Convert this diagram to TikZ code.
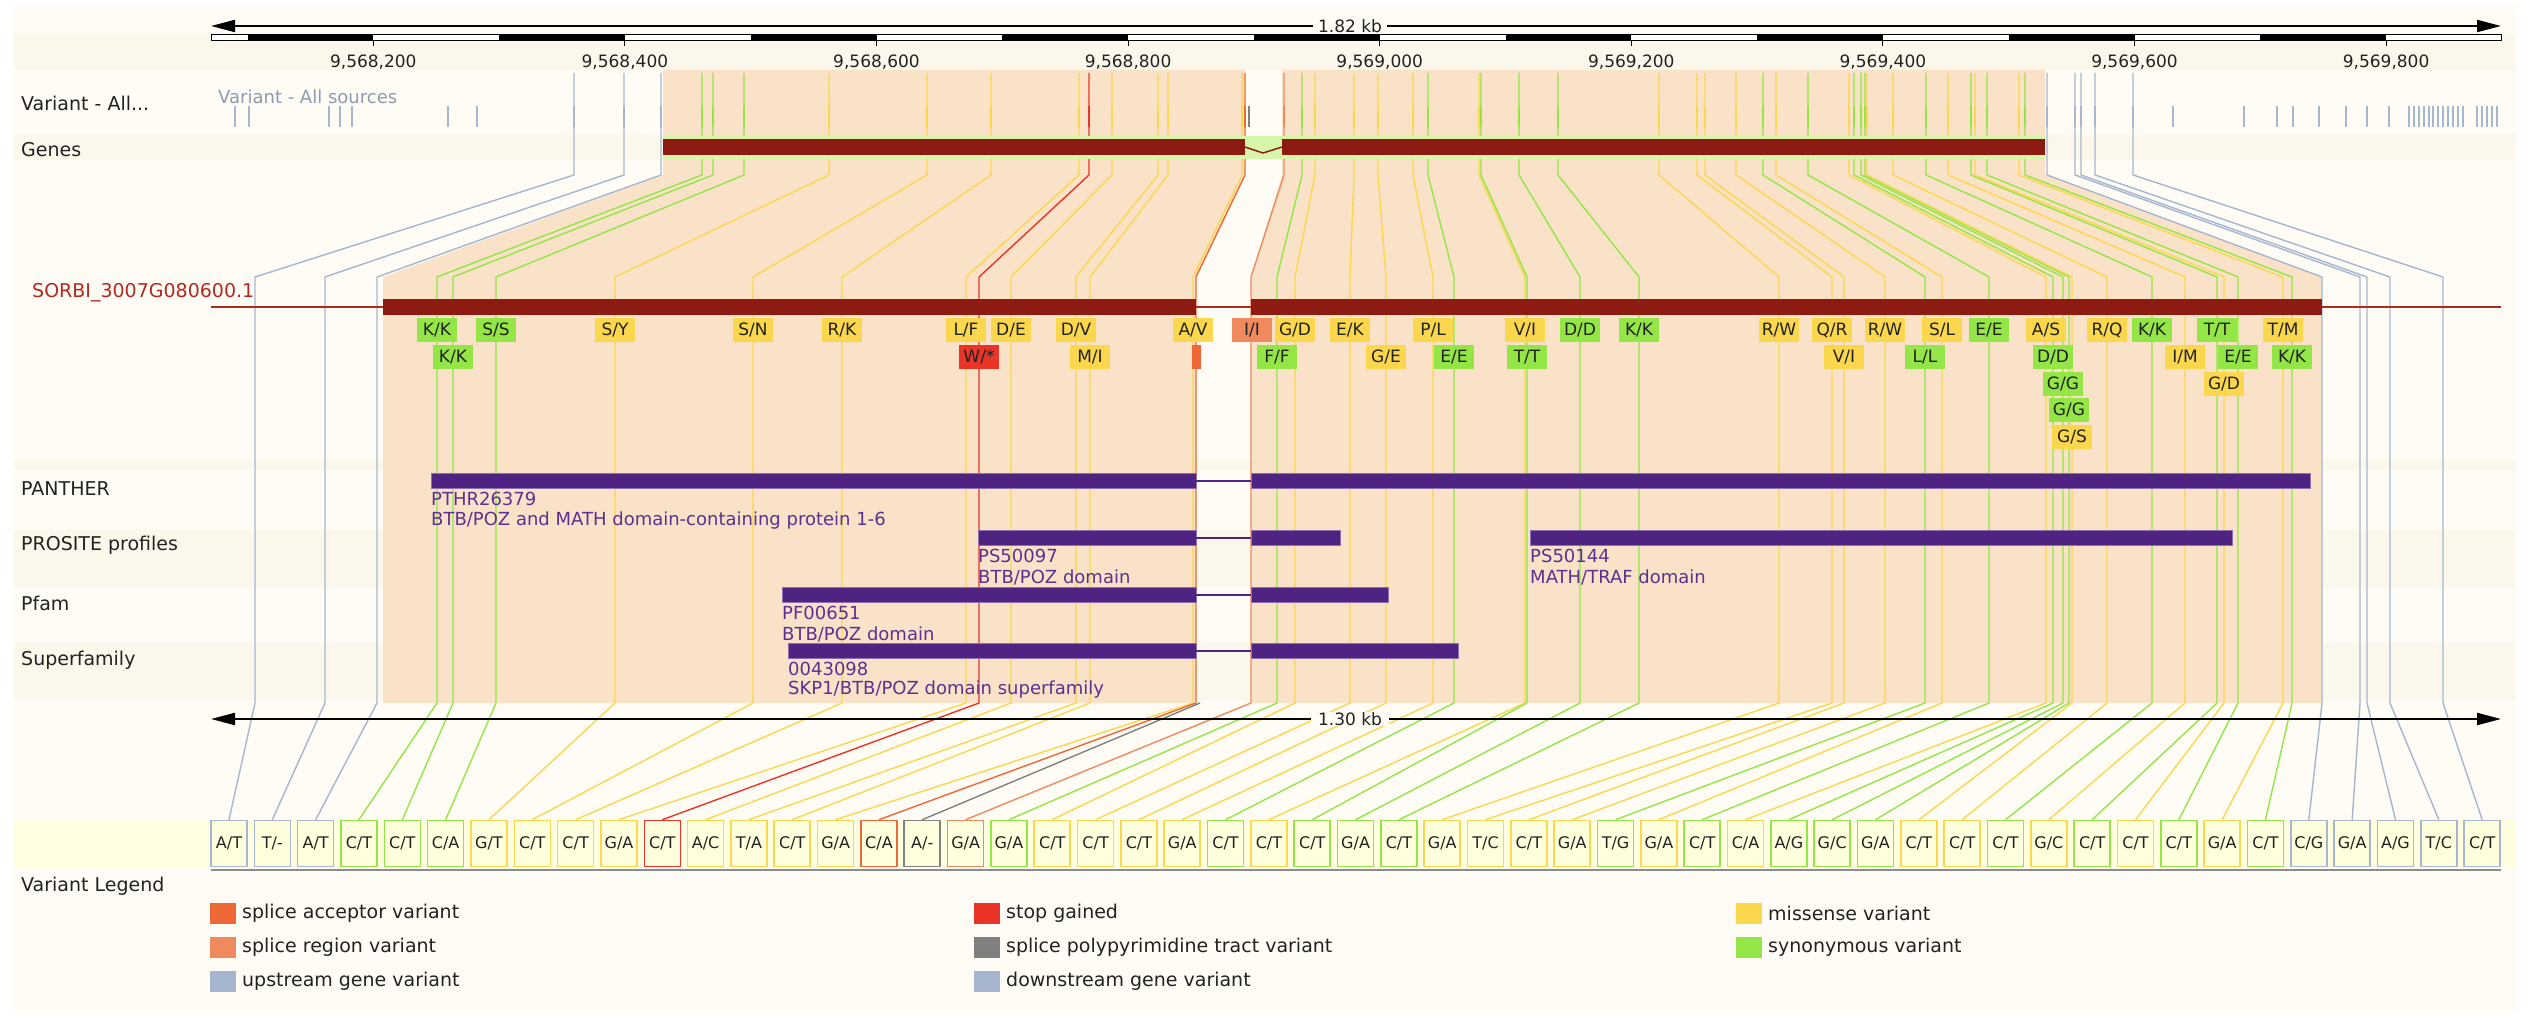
\documentclass[tikz,border=0pt]{standalone}
\usepackage{fontspec}
\setmainfont{DejaVu Sans}
\usetikzlibrary{arrows.meta}

\definecolor{fundo}{HTML}{FEFCF5}
\definecolor{faixa}{HTML}{FBF7EA}
\definecolor{pessego}{HTML}{FAE2C8}
\definecolor{genevermelho}{HTML}{8E1B12}
\definecolor{transcrito}{HTML}{B02A1E}
\definecolor{realce}{HTML}{D8F6AA}
\definecolor{roxo}{HTML}{4F2382}
\definecolor{roxotexto}{HTML}{5C3090}
\definecolor{caixa}{HTML}{FFFFDE}
\definecolor{faixacaixa}{HTML}{FFFEE0}
\definecolor{texto}{HTML}{222222}
\definecolor{vup}{HTML}{A6B6CF}
\definecolor{vsin}{HTML}{93E646}
\definecolor{vmis}{HTML}{FAD74C}
\definecolor{vstop}{HTML}{EB3428}
\definecolor{vacc}{HTML}{EE6736}
\definecolor{vreg}{HTML}{EF8A5F}
\definecolor{vppt}{HTML}{808080}

\tikzset{
  rotulo/.style={anchor=west, inner sep=0pt, text=texto, font=\fontsize{19}{21}\selectfont},
  dominiotxt/.style={anchor=west, inner sep=0pt, text=roxotexto, font=\fontsize{18}{20}\selectfont},
  reguatxt/.style={inner sep=0pt, text=texto, font=\fontsize{17}{17}\selectfont},
  prot/.style={minimum width=40pt, minimum height=24pt, inner sep=0pt, text=texto, font=\fontsize{17}{17}\selectfont},
  vcaixa/.style={draw, fill=caixa, minimum width=36pt, minimum height=46pt, inner sep=0pt, line width=1.6pt, text=texto, font=\fontsize{16}{16}\selectfont},
  ligacao/.style={line width=1.4pt},
  marca/.style={line width=2.2pt},
  regua/.style={line width=2pt, {Triangle[length=24pt,width=12pt]}-{Triangle[length=24pt,width=12pt]}},
  dominio/.style={fill=roxo, draw=roxo!65!white, line width=1pt},
}

% variantes: numero/genoma/transcrito/cor/alelos
\def\variantes{1/574/255/vup/A/T, 2/624/325/vup/T/-, 3/661/377/vup/A/T,
  4/702/437/vsin/C/T, 5/713/453/vsin/C/T, 6/744/496/vsin/C/A,
  7/829/615/vmis/G/T, 8/927/753/vmis/C/T, 9/991/842/vmis/C/T,
  10/1079/966/vmis/G/A, 11/1089/979/vstop/C/T, 12/1112/1011/vmis/A/C,
  13/1158/1076/vmis/T/A, 14/1168/1090/vmis/C/T, 15/1242/1193/vmis/G/A,
  16/1245/1196/vacc/C/A, 17/1249/1200/vppt/A/-, 18/1284/1251/vreg/G/A,
  19/1302/1277/vsin/G/A, 20/1315/1295/vmis/C/T, 21/1354/1350/vmis/C/T,
  22/1378/1386/vmis/C/T, 23/1413/1433/vmis/G/A, 24/1428/1454/vsin/C/T,
  25/1479/1525/vmis/C/T, 26/1481/1527/vsin/C/T, 27/1519/1580/vsin/G/A,
  28/1558/1639/vsin/C/T, 29/1659/1779/vmis/G/A, 30/1697/1832/vmis/T/C,
  31/1705/1844/vmis/C/T, 32/1736/1885/vmis/G/A, 33/1763/1925/vsin/T/G,
  34/1776/1942/vmis/G/A, 35/1808/1989/vsin/C/T, 36/1849/2046/vmis/C/A,
  37/1854/2053/vsin/A/G, 38/1861/2063/vsin/G/C, 39/1865/2069/vsin/G/A,
  40/1867/2072/vmis/C/T, 41/1893/2107/vmis/C/T, 42/1926/2152/vsin/C/T,
  43/1948/2185/vmis/G/C, 44/1971/2217/vsin/C/T, 45/1975/2224/vmis/C/T,
  46/1987/2238/vsin/C/T, 47/2019/2283/vmis/G/A, 48/2025/2292/vsin/C/T,
  49/2047/2322/vup/C/G, 50/2075/2360/vup/G/A, 51/2081/2367/vup/A/G,
  52/2095/2390/vup/T/C, 53/2133/2443/vup/C/T}

% efeito na proteina: posicao/linha/cor/aminoacidos
\def\proteinas{437/1/vsin/K/K, 453/2/vsin/K/K, 496/1/vsin/S/S, 615/1/vmis/S/Y,
  753/1/vmis/S/N, 842/1/vmis/R/K, 966/1/vmis/L/F, 979/2/vstop/W/*,
  1011/1/vmis/D/E, 1076/1/vmis/D/V, 1090/2/vmis/M/I, 1193/1/vmis/A/V,
  1252/1/vreg/I/I, 1277/2/vsin/F/F, 1295/1/vmis/G/D, 1350/1/vmis/E/K,
  1386/2/vmis/G/E, 1433/1/vmis/P/L, 1454/2/vsin/E/E, 1525/1/vmis/V/I,
  1527/2/vsin/T/T, 1580/1/vsin/D/D, 1639/1/vsin/K/K, 1779/1/vmis/R/W,
  1832/1/vmis/Q/R, 1844/2/vmis/V/I, 1885/1/vmis/R/W, 1925/2/vsin/L/L,
  1942/1/vmis/S/L, 1989/1/vsin/E/E, 2046/1/vmis/A/S, 2053/2/vsin/D/D,
  2063/3/vsin/G/G, 2069/4/vsin/G/G, 2072/5/vmis/G/S, 2107/1/vmis/R/Q,
  2152/1/vsin/K/K, 2185/2/vmis/I/M, 2217/1/vsin/T/T, 2224/3/vmis/G/D,
  2238/2/vsin/E/E, 2283/1/vmis/T/M, 2292/2/vsin/K/K}

\begin{document}
\begin{tikzpicture}[x=1pt, y=-1pt, line join=round]
  \useasboundingbox (0,0) rectangle (2528,1024);

  % Fundo e faixas
  \fill[white] (0,0) rectangle (2528,1024);
  \fill[fundo] (14,5) rectangle (2516,1013);
  \foreach \ya/\yb in {33/70, 135/160, 460/470, 530/587, 643/700}
    \fill[faixa] (14,\ya) rectangle (2516,\yb);
  \fill[faixacaixa] (14,820) rectangle (2516,867);

  % Regioes dos exons
  \fill[pessego] (663,70) -- (1245,70) -- (1245,175) -- (1196,277) -- (1196,703)
    -- (383,703) -- (383,277) -- (663,175) -- cycle;
  \fill[pessego] (1282,70) -- (2045,70) -- (2045,175) -- (2322,277) -- (2322,703)
    -- (1251,703) -- (1251,277) -- (1282,175) -- cycle;

  % Caixas dos alelos
  \foreach \n/\gpos/\tpos/\cv/\refal/\altal in \variantes
    \node[vcaixa, draw=\cv] (box\n) at ({229+(\n-1)*43.33}, 843.5) {\refal/\altal};
  \draw[line width=2pt, black!45] (211,870) -- (2501,870);

  % Linhas das variantes
  \foreach \n/\gpos/\tpos/\cv/\refal/\altal in \variantes {
    \coordinate (v\n) at (\gpos,73);
    \ifnum\n=17
      \draw[ligacao, \cv] (\tpos,703) -- (box\n.north);
    \else
      \draw[ligacao, \cv] (v\n) -- (\gpos,175) -- (\tpos,277) -- (\tpos,703) -- (box\n.north);
    \fi
    \draw[marca, \cv] (\gpos,106) -- (\gpos,127);
  }
  \foreach \x in {235,249,329,340,352,448,477,2173,2244,2277,2293,2319,2346,2367,2389,
      2409,2414,2419,2424,2429,2433,2438,2443,2448,2453,2458,2463,2477,2482,2487,2492,2497}
    \draw[marca, vup] (\x,106) -- (\x,127);

  % Gene
  \fill[realce] (663,136) rectangle (2045,159);
  \fill[genevermelho] (663,139) rectangle (1245,155);
  \fill[genevermelho] (1282,139) rectangle (2045,155);
  \draw[genevermelho, line width=1.5pt] (1245,147) -- (1263,153) -- (1282,147);

  % Transcrito
  \draw[transcrito, line width=1.8pt] (211,307) -- (2501,307);
  \fill[genevermelho] (383,299) rectangle (1196,315);
  \fill[genevermelho] (1251,299) rectangle (2322,315);

  % Efeitos na proteina
  \foreach \tpos/\lin/\cv/\pa/\pb in \proteinas
    \node[prot, fill=\cv] (p\tpos) at (\tpos, {330+(\lin-1)*26.8}) {\pa/\pb};
  \node[fill=vacc, minimum width=9pt, minimum height=24pt, inner sep=0pt] (p1196) at (1196.5,356.8) {};

  % Dominios
  \foreach \ya/\xa/\xb/\xc in {473/431/1196/2310, 530/978/1196/1340, 587/782/1196/1388, 643/788/1196/1458} {
    \draw[dominio] (\xa,\ya) rectangle (\xb,\ya+15);
    \draw[dominio] (1251,\ya) rectangle (\xc,\ya+15);
    \draw[roxo, line width=2pt] (\xb,\ya+7.5) -- (1251,\ya+7.5);
  }
  \draw[dominio] (1530,530) rectangle (2232,545);

  \node[dominiotxt] (pthr) at (431,499) {PTHR26379};
  \node[dominiotxt] (pthrd) at (431,521) {BTB/POZ and MATH domain-containing protein 1-6};
  \node[dominiotxt] (ps1) at (978,556) {PS50097};
  \node[dominiotxt] (ps1d) at (978,577) {BTB/POZ domain};
  \node[dominiotxt] (ps2) at (1530,556) {PS50144};
  \node[dominiotxt] (ps2d) at (1530,577) {MATH/TRAF domain};
  \node[dominiotxt] (pf) at (782,613) {PF00651};
  \node[dominiotxt] (pfd) at (782,634) {BTB/POZ domain};
  \node[dominiotxt] (sf) at (788,669) {0043098};
  \node[dominiotxt] (sfd) at (788,690) {SKP1/BTB/POZ domain superfamily};

  % Reguas
  \coordinate (r1e) at (211,26);
  \coordinate (r1d) at (2501,26);
  \draw[regua] (r1e) -- (r1d);
  \node[reguatxt, fill=fundo, inner xsep=5pt] (kb1) at (1350,26) {1.82 kb};
  \draw[line width=1pt, fill=white] (211,35) rectangle (2501,41);
  \foreach \k in {0,...,8}
    \fill (247.5+251.6*\k,35) rectangle ++(125.8,6);
  \foreach \k/\rot in {0/{9,568,200},1/{9,568,400},2/{9,568,600},3/{9,568,800},4/{9,569,000},
      5/{9,569,200},6/{9,569,400},7/{9,569,600},8/{9,569,800}} {
    \draw[line width=1pt] (373.3+251.6*\k,41) -- ++(0,5);
    \node[reguatxt] (t\k) at (373.3+251.6*\k,62) {\rot};
  }

  \coordinate (r2e) at (211,719);
  \coordinate (r2d) at (2501,719);
  \draw[regua] (r2e) -- (r2d);
  \node[reguatxt, fill=fundo, inner xsep=7pt] (kb2) at (1350,719) {1.30 kb};

  % Rotulos das faixas
  \node[rotulo] (rvar) at (21,103) {Variant - All...};
  \node[rotulo, text=vup!85!black, font=\fontsize{18}{20}\selectfont] (fontes) at (218,97) {Variant - All sources};
  \node[rotulo] (rgen) at (21,150) {Genes};
  \node[rotulo, text=transcrito] (rtr) at (32,293) {SORBI\_3007G080600.1};
  \node[rotulo] (rpan) at (21,489) {PANTHER};
  \node[rotulo] (rpro) at (21,545) {PROSITE profiles};
  \node[rotulo] (rpfam) at (21,603) {Pfam};
  \node[rotulo] (rsup) at (21,660) {Superfamily};
  \node[rotulo] (rleg) at (21,886) {Variant Legend};

  % Legenda
  \foreach \x/\y/\cv/\txt/\nome in {210/913/vacc/{splice acceptor variant}/l1,
      210/947/vreg/{splice region variant}/l2, 210/981/vup/{upstream gene variant}/l3,
      974/913/vstop/{stop gained}/l4, 974/947/vppt/{splice polypyrimidine tract variant}/l5,
      974/981/vup/{downstream gene variant}/l6, 1736/913/vmis/{missense variant}/l7,
      1736/947/vsin/{synonymous variant}/l8} {
    \fill[\cv] (\x,\y-10.5) rectangle ++(26,21);
    \node[rotulo] (\nome) at (\x+32,\y) {\txt};
  }
\end{tikzpicture}
\end{document}
